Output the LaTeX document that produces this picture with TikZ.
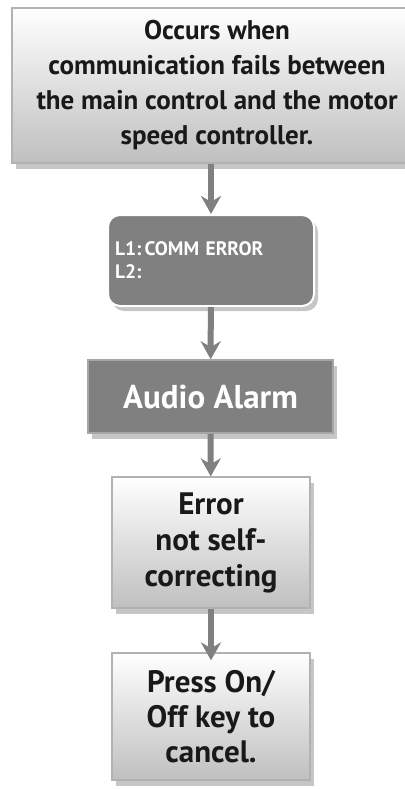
\documentclass[tikz,border=0pt]{standalone}
\usepackage{fontspec}
\setmainfont{PT Sans}
\usetikzlibrary{arrows.meta,shadows}
\begin{document}
\begin{tikzpicture}[x=1pt, y=1pt, every node/.style={align=center, inner sep=0pt, text=black!90},
    lightbox/.style={draw=black!30, line width=1.2pt, top color=white, middle color=white, bottom color=black!25,
        drop shadow={shadow xshift=4pt, shadow yshift=-6pt, opacity=.45}},
    lcdbox/.style={fill=black!50, draw=white, line width=2pt, rounded corners=12pt, text=white,
        drop shadow={shadow xshift=4pt, shadow yshift=-5pt, opacity=.45}},
    alarmbox/.style={fill=black!50, draw=black!35, line width=1.5pt, text=white,
        drop shadow={shadow xshift=4pt, shadow yshift=-6pt, opacity=.45}},
    flow/.style={-{Stealth[length=18pt, width=20pt]}, line width=6pt, draw=black!50}]
    \useasboundingbox (0,0) rectangle (404,-789);
    % boxes, top to bottom
    \node[lightbox, minimum width=410pt, minimum height=155pt, font=\fontsize{27}{35}\selectfont\bfseries]
        (cause) at (217,-85.5) {Occurs when\\communication fails between\\the main control and the motor\\speed controller.};
    \node[lcdbox, minimum width=206pt, minimum height=91pt, text width=192pt, align=left,
        font=\fontsize{19.5}{23}\selectfont\bfseries] (lcd) at (211,-260.5) {L1:\,COMM ERROR\\L2:};
    \node[alarmbox, minimum width=245pt, minimum height=73pt, font=\fontsize{33}{36}\selectfont\bfseries]
        (alarm) at (210.5,-396.5) {Audio Alarm};
    \node[lightbox, minimum width=198pt, minimum height=131pt, font=\fontsize{31}{36}\selectfont\bfseries]
        (notself) at (211,-542.5) {Error\\not self-\\correcting};
    \node[lightbox, minimum width=198pt, minimum height=127pt, font=\fontsize{31}{35}\selectfont\bfseries]
        (press) at (211,-716.5) {Press On/\\Off key to\\cancel.};
    % arrows
    \draw[flow] (cause.south -| lcd) -- (lcd);
    \draw[flow] (lcd) -- (alarm);
    \draw[flow] (alarm) -- (notself);
    \draw[flow, shorten >=-8pt] (notself) -- (press);
\end{tikzpicture}
\end{document}
